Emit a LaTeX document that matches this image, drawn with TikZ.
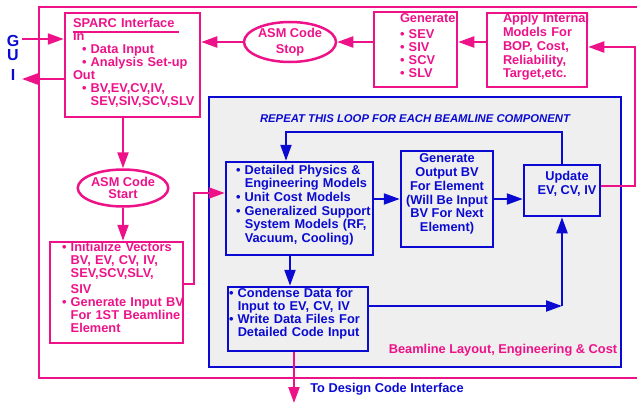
\documentclass[tikz,border=0pt]{standalone}
\usepackage{fontspec}
\setmainfont{Liberation Sans}
\usepackage{xcolor}
\definecolor{sparcPink}{HTML}{EE1289}
\definecolor{loopBlue}{HTML}{0A0AD2}
\definecolor{loopBg}{HTML}{EFEFEF}
\usepackage{tikz}
\usetikzlibrary{shapes.geometric, arrows.meta, positioning, calc}
\hyphenpenalty=10000
\exhyphenpenalty=10000
\newcommand{\diagfont}[1]{\fontsize{12.8}{#1}\selectfont\bfseries}
\newcommand{\bul}{\textbullet~}
\newcommand{\bulgap}{\hphantom{\textbullet~}}
\newcommand{\descstrut}[1]{\rule[-#1]{0pt}{#1}}

\begin{document}
\begin{tikzpicture}[
        x=1pt, y=-1pt,
        pinkBox/.style={
            draw=sparcPink,
            line width=2.5pt,
            inner sep=0pt,
            align=left,
            text=sparcPink
        },
        pinkOval/.style={
            ellipse,
            draw=sparcPink,
            line width=2.5pt,
            inner sep=0pt,
            align=center,
            text=sparcPink
        },
        blueBox/.style={
            draw=loopBlue,
            line width=2.5pt,
            inner sep=0pt,
            align=left,
            text=loopBlue
        },
        loopFrame/.style={
            draw=loopBlue,
            fill=loopBg,
            line width=2.5pt,
            inner sep=0pt
        },
        pinkArrow/.style={
            -{Triangle[length=16pt,width=11pt]},
            line width=2.2pt,
            sparcPink
        },
        blueArrow/.style={
            -{Triangle[length=16pt,width=11pt]},
            line width=2.2pt,
            loopBlue
        }
    ]

    \useasboundingbox (0,0) rectangle (637,404);

    % Outer frame (open to the right)
    \draw[sparcPink, line width=2.5pt] (637,7) -- (39,7) -- (39,378) -- (637,378);

    % Loop area
    \node[loopFrame, minimum width=412pt, minimum height=270pt] (beamline) at (415,232) {};
    \node[text=loopBlue, font=\fontsize{11.3}{13}\selectfont\bfseries\itshape] (repeat) at (415,119) {REPEAT THIS LOOP FOR EACH BEAMLINE COMPONENT};
    \node[text=sparcPink, font=\diagfont{13.5}] (costLabel) at (503,350) {Beamline Layout, Engineering \& Cost};

    % GUI side
    \node[text=loopBlue, align=center, inner sep=0pt, font=\fontsize{16}{14.5}\selectfont\bfseries] (gui) at (13,58) {G\\U\\[5.5pt]I};
    \coordinate (guiIn) at (22,39);
    \coordinate (guiOut) at (22,79);

    % Top row
    \node[pinkBox, minimum width=135pt, minimum height=104pt, text width=119pt, font=\diagfont{13}] (sparc) at (132.5,65) {%
        \rlap{\smash{\rule[-6pt]{106pt}{2pt}}}SPARC~Interface\\
        In\\
        \hspace*{9pt}\bul Data~Input\\
        \hspace*{9pt}\bul Analysis~Set-up\\
        Out\\
        \hspace*{9pt}\bul BV,EV,CV,IV,\\
        \hspace*{9pt}\bulgap SEV,SIV,SCV,SLV\descstrut{6.5pt}};
    \node[pinkOval, minimum width=92pt, minimum height=40pt, font=\diagfont{16}] (stop) at (290,42) {ASM Code\\Stop};
    \node[pinkBox, minimum width=83pt, minimum height=75pt, text width=31pt, font=\diagfont{13}] (gen) at (415.5,49.5) {%
        Generate\\[3pt]
        \bul SEV\\
        \bul SIV\\
        \bul SCV\\
        \bul SLV\descstrut{7pt}};
    \node[pinkBox, minimum width=100pt, minimum height=74pt, text width=68pt, font=\diagfont{13.75}] (apply) at (537,50) {%
        Apply~Internal\\
        Models~For\\
        BOP,~Cost,\\
        Reliability,\\
        Target,etc.\descstrut{8.7pt}};

    % Left column
    \node[pinkOval, minimum width=90pt, minimum height=37pt, font=\diagfont{12.5}] (start) at (123,188) {ASM Code\\Start};
    \node[pinkBox, minimum width=133pt, minimum height=101pt, text width=109pt, font=\diagfont{13}] (init) at (116.5,292.5) {%
        \bul Initialize~Vectors\\
        \bulgap BV,~EV,~CV,~IV,\\
        \bulgap SEV,SCV,SLV,\\[2.5pt]
        \bulgap SIV\\
        \bul Generate~Input~BV\\
        \bulgap For~1ST~Beamline\\
        \bulgap Element\descstrut{10pt}};

    % Loop boxes
    \node[blueBox, minimum width=147pt, minimum height=93pt, text width=127pt, font=\diagfont{13.6}] (detailed) at (299.5,208.5) {%
        \bul Detailed~Physics~\&\\
        \bulgap Engineering~Models\\
        \bul Unit~Cost~Models\\
        \bul Generalized~Support\\
        \bulgap System~Models~(RF,\\
        \bulgap Vacuum,~Cooling)\descstrut{9.5pt}};
    \node[blueBox, align=center, minimum width=92pt, minimum height=96pt, font=\diagfont{13.7}] (genout) at (447,199) {%
        Generate\\Output BV\\For Element\\(Will Be Input\\BV For Next\\Element)\descstrut{12.5pt}};
    \node[blueBox, align=center, minimum width=76pt, minimum height=51pt, font=\diagfont{13.4}] (update) at (562,190.5) {%
        \hspace*{10pt}Update\\\hspace*{10pt}EV, CV, IV\descstrut{15.5pt}};
    \node[blueBox, minimum width=140pt, minimum height=64pt, text width=138pt, font=\diagfont{13.2}] (condense) at (298,319) {%
        \bul Condense~Data~for\\
        \bulgap Input~to~EV,~CV,~IV\\
        \bul Write~Data~Files~For\\
        \bulgap Detailed~Code~Input\descstrut{13.5pt}};

    \node[text=loopBlue, font=\diagfont{13.5}] (designLabel) at (387,389) {To Design Code Interface};
    \coordinate (loopTop) at (286,132);
    \coordinate (designOut) at (294,403);

    % Connections
    \draw[pinkArrow] (guiIn) -- (guiIn -| sparc.west);
    \draw[pinkArrow] (guiOut -| sparc.west) -- (guiOut);
    \draw[pinkArrow] (stop.west) -- (stop.west -| sparc.east);
    \draw[pinkArrow] (gen.west |- stop.east) -- (stop.east);
    \draw[pinkArrow] (apply.west |- stop.east) -- (gen.east |- stop.east);
    \draw[pinkArrow] ([yshift=4.5pt]update.east) -- ++(34,0) |- ([yshift=3pt]apply.east);

    \draw[pinkArrow] (sparc.south -| start.north) -- (start.north);
    \draw[pinkArrow] (start.south) -- (start.south |- init.north);
    \draw[pinkArrow] ([yshift=8.5pt]init.east) -- ++(10,0) |- ([yshift=15.5pt]detailed.west);

    \draw[blueArrow] (update.north) |- (loopTop) -- (loopTop |- detailed.north);
    \draw[blueArrow] (detailed.east |- genout.west) -- (genout.west);
    \draw[blueArrow] (genout.east) -- (genout.east -| update.west);
    \draw[blueArrow] ([xshift=-9.5pt]detailed.south) -- ([xshift=-9.5pt]detailed.south |- condense.north);
    \draw[blueArrow] ([yshift=13pt]condense.east) -- ([yshift=13pt]condense.east -| update.south) coordinate (cvCorner);
    \draw[blueArrow] (cvCorner) -- (update.south);

    \draw[pinkArrow] ([xshift=-4pt]condense.south) -- (designOut);

\end{tikzpicture}
\end{document}
